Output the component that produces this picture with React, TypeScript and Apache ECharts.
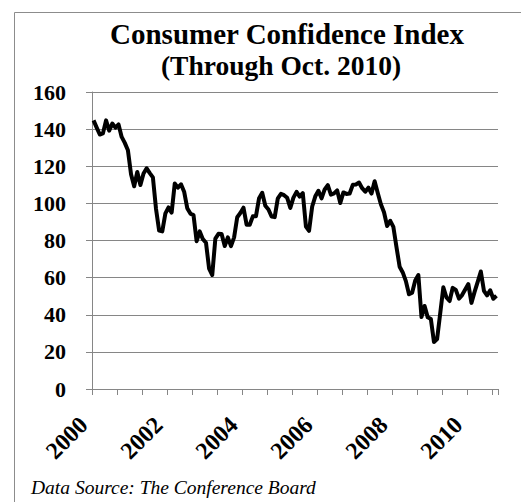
import React, { useEffect, useRef } from "react";
import * as echarts from "echarts";

const YEARS = [2000, 2001, 2002, 2003, 2004, 2005, 2006, 2007, 2008, 2009, 2010];
const MONTHS = ["Jan", "Feb", "Mar", "Apr", "May", "Jun", "Jul", "Aug", "Sep", "Oct", "Nov", "Dec"];

const cci2000 = [144.7, 140.8, 137.1, 137.7, 144.7, 139.2, 143.0, 140.8, 142.5, 135.8, 132.6, 128.6];
const cci2001 = [115.7, 109.2, 116.9, 109.9, 116.1, 118.9, 116.3, 114.0, 97.0, 85.3, 84.9, 94.6];
const cci2002 = [97.8, 95.0, 110.7, 108.5, 110.3, 106.3, 97.4, 94.5, 93.7, 79.6, 84.9, 80.7];
const cci2003 = [78.8, 64.8, 61.4, 81.0, 83.6, 83.5, 77.0, 81.7, 77.0, 81.7, 92.5, 94.8];
const cci2004 = [97.7, 88.5, 88.5, 93.0, 93.1, 102.8, 105.7, 98.7, 96.7, 92.9, 92.6, 102.7];
const cci2005 = [105.1, 104.4, 103.0, 97.5, 103.1, 106.2, 103.6, 105.5, 87.5, 85.2, 98.3, 103.8];
const cci2006 = [106.8, 102.7, 107.5, 109.8, 104.7, 105.4, 107.0, 100.2, 105.9, 105.1, 105.3, 110.0];
const cci2007 = [110.2, 111.2, 108.2, 106.3, 108.5, 105.3, 111.9, 105.6, 99.5, 95.2, 87.8, 90.6];
const cci2008 = [87.3, 76.4, 65.9, 62.8, 58.1, 51.0, 51.9, 58.5, 61.4, 38.8, 44.7, 38.6];
const cci2009 = [37.7, 25.3, 26.9, 40.8, 54.8, 49.3, 47.4, 54.5, 53.4, 48.7, 50.6, 53.6];
const cci2010 = [56.5, 46.4, 52.3, 57.7, 63.3, 52.9, 50.4, 53.2, 48.6, 50.2];

const yTicks = [0, 20, 40, 60, 80, 100, 120, 140, 160];

const TITLE = "Consumer Confidence Index";
const SUBTITLE = "(Through Oct. 2010)";
const SOURCE = "Data Source: The Conference Board";

export default function App() {
  const ref = useRef<HTMLDivElement>(null);
  useEffect(() => {
    if (!ref.current) return;
    const chart = echarts.init(ref.current, undefined, { renderer: "svg" });
    const values = [
      ...cci2000, ...cci2001, ...cci2002, ...cci2003, ...cci2004, ...cci2005,
      ...cci2006, ...cci2007, ...cci2008, ...cci2009, ...cci2010,
    ];
    const categories: string[] = [];
    YEARS.forEach((y) => MONTHS.forEach((m) => categories.push(`${m} ${y}`)));
    const cats = categories.slice(0, values.length);
    const font = "'Liberation Serif', 'Times New Roman', serif";
    chart.setOption({
      animation: false,
      backgroundColor: "#ffffff",
      grid: { left: 92, right: 23, top: 92, bottom: 113, containLabel: false },
      xAxis: {
        type: "category",
        data: cats,
        boundaryGap: true,
        axisLine: { lineStyle: { color: "#868686", width: 1 } },
        axisTick: { show: true, interval: 7, length: 6, lineStyle: { color: "#868686" } },
        axisLabel: {
          interval: 23,
          rotate: 45,
          margin: 22,
          padding: [0, 14, 0, 0],
          fontFamily: font,
          fontWeight: "bold",
          fontSize: 24,
          color: "#000",
          formatter: (v: string) => v.split(" ")[1],
        },
        splitLine: { show: false },
      },
      yAxis: {
        type: "value",
        min: yTicks[0],
        max: yTicks[yTicks.length - 1],
        interval: 20,
        axisLine: { show: true, lineStyle: { color: "#868686", width: 1 } },
        axisTick: { show: true, length: 6, lineStyle: { color: "#868686" } },
        axisLabel: {
          margin: 26,
          fontFamily: font,
          fontWeight: "bold",
          fontSize: 22,
          color: "#000",
        },
        splitLine: { show: true, lineStyle: { color: "#868686", width: 1 } },
      },
      series: [
        {
          type: "line",
          data: values,
          symbol: "none",
          lineStyle: { color: "#000", width: 4, join: "round" },
        },
      ],
      graphic: [
        {
          type: "rect",
          shape: { x: 14.5, y: 12.5, width: 540, height: 520 },
          style: { fill: "none", stroke: "#8c8c8c", lineWidth: 1 },
          silent: true,
        },
        {
          type: "text",
          x: 287,
          y: 34,
          style: {
            text: TITLE,
            fontFamily: font,
            fontWeight: "bold",
            fontSize: 29,
            fill: "#000",
            textAlign: "center",
            textVerticalAlign: "middle",
          },
        },
        {
          type: "text",
          x: 281,
          y: 65,
          style: {
            text: SUBTITLE,
            fontFamily: font,
            fontWeight: "bold",
            fontSize: 27.5,
            fill: "#000",
            textAlign: "center",
            textVerticalAlign: "middle",
          },
        },
        {
          type: "text",
          x: 31,
          y: 487,
          style: {
            text: SOURCE,
            fontFamily: font,
            fontStyle: "italic",
            fontSize: 19.5,
            fill: "#000",
            textAlign: "left",
            textVerticalAlign: "middle",
          },
        },
      ],
    });
    return () => chart.dispose();
  }, []);
  return (
    <div
      ref={ref}
      style={{ position: "fixed", left: 0, top: 0, width: 521, height: 502 }}
    />
  );
}
